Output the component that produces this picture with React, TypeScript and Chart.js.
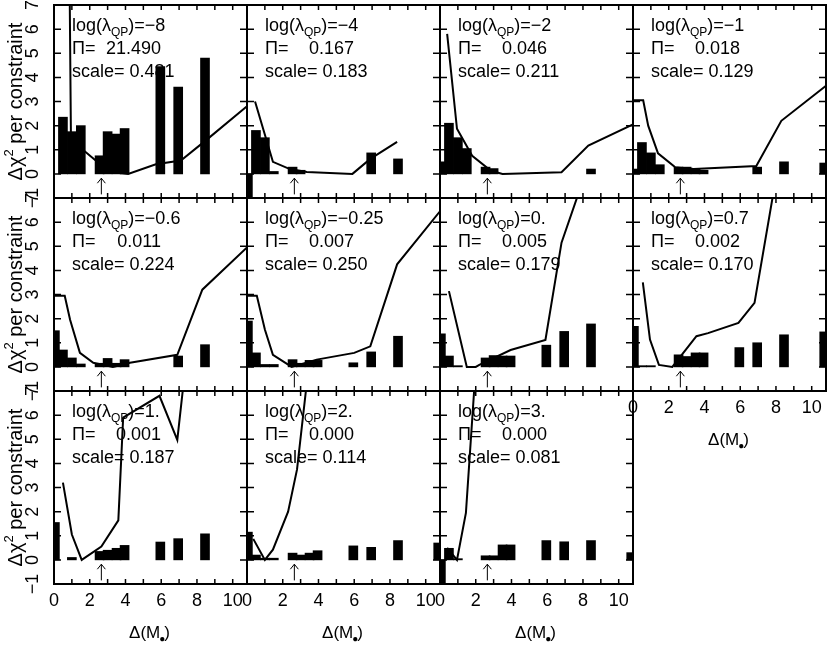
import { useEffect, useRef } from "react";
import { Chart, registerables } from "chart.js";

Chart.register(...registerables);

// histogram bin centres (Delta M) shared by every panel
const binCentres = [0.05, 0.5, 1.0, 1.5, 2.55, 3.0, 3.5, 3.95, 5.95, 6.95, 8.45, 10.7];

const logLambda = ["-8", "-4", "-2", "-1", "-0.6", "-0.25", "0.", "0.7", "1.", "2.", "3."];
const piValues = ["21.490", "0.167", "0.046", "0.018", "0.011", "0.007", "0.005", "0.002", "0.001", "0.000", "0.000"];
const scaleValues = ["0.481", "0.183", "0.211", "0.129", "0.224", "0.250", "0.179", "0.170", "0.187", "0.114", "0.081"];

// bar heights per panel, one per bin (null = no bar)
const bars1 = [null, 2.35, 1.75, 2.0, 0.75, 1.75, 1.65, 1.88, 4.45, 3.6, 4.8, null];
const bars2 = [-1.3, 1.8, 1.5, 0.1, 0.28, 0.15, null, null, null, 0.87, 0.62, null];
const bars3 = [0.5, 2.1, 1.5, 1.05, 0.28, 0.22, null, null, null, null, 0.2, null];
const bars4 = [0.2, 1.3, 0.87, 0.38, 0.28, 0.28, 0.2, 0.15, null, 0.28, 0.5, 0.45];
const bars5 = [1.5, 0.7, 0.37, 0.12, 0.15, 0.35, 0.15, 0.3, null, 0.45, 0.92, null];
const bars6 = [1.9, 0.58, 0.1, 0.1, 0.3, 0.15, 0.27, 0.27, 0.17, 0.62, 1.27, null];
const bars7 = [1.37, 0.45, 0.05, null, 0.37, 0.47, 0.45, 0.45, 0.9, 1.47, 1.78, null];
const bars8 = [1.68, 0.05, 0.05, null, 0.5, 0.43, 0.58, 0.58, 0.8, 1.0, 1.33, 1.45];
const bars9 = [1.55, null, 0.1, null, 0.35, 0.4, 0.48, 0.6, 0.74, 0.88, 1.08, null];
const bars10 = [1.15, 0.2, 0.07, 0.07, 0.28, 0.2, 0.28, 0.38, 0.58, 0.52, 0.8, 0.7];
const bars11 = [-1.3, 0.48, 0.05, null, 0.17, 0.17, 0.62, 0.62, 0.8, 0.75, 0.8, 0.3];

// curves
const lineX1 = [0.5, 0.95, 1.7, 2.5, 3.2, 4.15, 5.7, 7.1, 8.6, 10.8];
const lineY1 = [40, 1.3, 0.95, 0.45, 0.08, 0, 0.4, 0.55, 1.45, 2.8];
const lineX2 = [0.45, 1.45, 2.4, 3.35, 5.9, 6.9, 8.4];
const lineY2 = [3.0, 0.5, 0.2, 0.08, 0, 0.62, 1.33];
const lineX3 = [0.4, 0.95, 1.8, 2.85, 3.5, 6.8, 8.3, 10.8];
const lineY3 = [5.8, 1.87, 0.75, 0.13, 0, 0.07, 1.17, 2.05];
const lineX4 = [0, 0.57, 0.85, 1.4, 2.35, 3.4, 6.9, 8.3, 10.8];
const lineY4 = [3.05, 3.05, 2.0, 0.85, 0.28, 0.2, 0.33, 2.2, 3.65];
const lineX5 = [0, 0.6, 0.9, 1.45, 2.2, 3.3, 4.25, 6.9, 8.3, 10.8];
const lineY5 = [2.95, 2.95, 1.95, 0.58, 0.17, 0, 0.17, 0.5, 3.2, 4.95];
const lineX6 = [0, 0.55, 1.0, 1.45, 2.5, 3.9, 6.0, 6.9, 8.4, 10.8];
const lineY6 = [2.95, 2.95, 1.55, 0.5, 0, 0.3, 0.58, 0.85, 4.25, 6.45];
const lineX7 = [0.5, 1.5, 2.0, 2.2, 3.95, 5.9, 6.8, 8.5];
const lineY7 = [3.14, 0, 0, 0.08, 0.7, 1.12, 5.15, 8.8];
const lineX8 = [0.55, 0.95, 1.45, 2.2, 3.55, 4.2, 5.9, 6.8, 8.5];
const lineY8 = [3.5, 1.13, 0.08, 0, 1.27, 1.4, 1.82, 2.65, 10];
const lineX9 = [0.5, 1.0, 1.55, 2.65, 3.6, 3.87, 5.9, 6.9, 7.5];
const lineY9 = [3.2, 1.05, 0, 0.55, 1.64, 5.9, 6.8, 4.97, 9];
const lineX10 = [0.35, 1.0, 1.45, 2.3, 2.8, 3.6];
const lineY10 = [0.87, 0, 0.42, 2.0, 3.75, 9];
const lineX11 = [0.4, 0.95, 1.45, 2.0];
const lineY11 = [0.5, 0, 1.95, 8];

const barSets = [bars1, bars2, bars3, bars4, bars5, bars6, bars7, bars8, bars9, bars10, bars11];
const lineXs = [lineX1, lineX2, lineX3, lineX4, lineX5, lineX6, lineX7, lineX8, lineX9, lineX10, lineX11];
const lineYs = [lineY1, lineY2, lineY3, lineY4, lineY5, lineY6, lineY7, lineY8, lineY9, lineY10, lineY11];

const xTicks = [0, 2, 4, 6, 8, 10];
const yTicks = [-1, 0, 1, 2, 3, 4, 5, 6, 7];
const arrowX = 2.65;

const colLeft = [54, 247, 440, 633];
const rowTop = [5, 198, 391];
const SIZE = 193;
const PAD = { left: 54, right: 12, top: 5, bottom: 62 };
const FONT = "'Liberation Sans', Arial, sans-serif";

type PanelProps = { index: number };

function Panel({ index }: PanelProps) {
  const canvasRef = useRef<HTMLCanvasElement>(null);
  const col = index % 4;
  const row = Math.floor(index / 4);
  const showY = col === 0;
  const showX = row === 2 || (row === 1 && col === 3);

  useEffect(() => {
    if (!canvasRef.current) return;

    const decor = {
      id: "decor",
      afterDatasetsDraw(chart: Chart) {
        const { ctx, chartArea: a } = chart;
        const xs = chart.scales.x;
        const ys = chart.scales.y;
        ctx.save();
        ctx.strokeStyle = "#000";
        ctx.fillStyle = "#000";

        // frame
        ctx.lineWidth = 2;
        ctx.strokeRect(a.left, a.top, a.right - a.left, a.bottom - a.top);

        // inward ticks
        ctx.lineWidth = 1.5;
        ctx.beginPath();
        for (let v = 1; v <= 10; v++) {
          const px = xs.getPixelForValue(v);
          ctx.moveTo(px, a.bottom);
          ctx.lineTo(px, a.bottom - 5);
          ctx.moveTo(px, a.top);
          ctx.lineTo(px, a.top + 5);
        }
        for (let v = 0; v <= 6; v++) {
          const py = ys.getPixelForValue(v);
          ctx.moveTo(a.left, py);
          ctx.lineTo(a.left + 7, py);
          ctx.moveTo(a.right, py);
          ctx.lineTo(a.right - 7, py);
        }
        ctx.stroke();

        // arrow marking the true value
        const ax = xs.getPixelForValue(arrowX);
        const aTop = ys.getPixelForValue(-0.18);
        const aBot = ys.getPixelForValue(-0.85);
        ctx.lineWidth = 1;
        ctx.beginPath();
        ctx.moveTo(ax, aBot);
        ctx.lineTo(ax, aTop);
        ctx.moveTo(ax - 4, aTop + 5);
        ctx.lineTo(ax, aTop);
        ctx.lineTo(ax + 4, aTop + 5);
        ctx.stroke();

        // annotation text
        ctx.textAlign = "left";
        ctx.textBaseline = "alphabetic";
        let tx = a.left + 18;
        const b1 = a.top + 26;
        ctx.font = `18px ${FONT}`;
        ctx.fillText("log(λ", tx, b1);
        tx += ctx.measureText("log(λ").width;
        ctx.font = `12px ${FONT}`;
        ctx.fillText("QP", tx, b1 + 5);
        tx += ctx.measureText("QP").width;
        ctx.font = `18px ${FONT}`;
        ctx.fillText(")=" + logLambda[index].replace("-", "\u2212"), tx, b1);
        ctx.fillText("Π=", a.left + 18, a.top + 49);
        ctx.textAlign = "right";
        ctx.fillText(piValues[index], a.left + 107, a.top + 49);
        ctx.textAlign = "left";
        ctx.fillText("scale= " + scaleValues[index], a.left + 18, a.top + 72);

        // y tick labels + title (rotated)
        if (showY) {
          ctx.font = `18px ${FONT}`;
          ctx.textAlign = "center";
          ctx.textBaseline = "middle";
          for (const v of yTicks) {
            ctx.save();
            ctx.translate(a.left - 21, ys.getPixelForValue(v));
            ctx.rotate(-Math.PI / 2);
            ctx.fillText(String(v).replace("-", "\u2212"), 0, 0);
            ctx.restore();
          }
          ctx.save();
          ctx.translate(a.left - 39, (a.top + a.bottom) / 2);
          ctx.rotate(-Math.PI / 2);
          ctx.textAlign = "left";
          ctx.textBaseline = "alphabetic";
          ctx.font = `20px ${FONT}`;
          const w1 = ctx.measureText("Δχ").width;
          const w3 = ctx.measureText(" per constraint").width;
          ctx.font = `13px ${FONT}`;
          const w2 = ctx.measureText("2").width;
          let sx = -(w1 + w2 + w3) / 2;
          ctx.font = `20px ${FONT}`;
          ctx.fillText("Δχ", sx, 7);
          sx += w1;
          ctx.font = `13px ${FONT}`;
          ctx.fillText("2", sx, -2);
          sx += w2;
          ctx.font = `20px ${FONT}`;
          ctx.fillText(" per constraint", sx, 7);
          ctx.restore();
        }

        // x tick labels + title
        if (showX) {
          ctx.font = `18px ${FONT}`;
          ctx.textAlign = "center";
          ctx.textBaseline = "middle";
          for (const v of xTicks) {
            ctx.fillText(String(v), xs.getPixelForValue(v), a.bottom + 17);
          }
          ctx.textAlign = "left";
          ctx.textBaseline = "alphabetic";
          ctx.font = `17px ${FONT}`;
          const p1 = ctx.measureText("Δ(M").width;
          const p3 = ctx.measureText(")").width;
          ctx.font = `10px ${FONT}`;
          const p2 = ctx.measureText("●").width;
          let sx = (a.left + a.right) / 2 - (p1 + p2 + p3) / 2;
          const by = a.bottom + 54;
          ctx.font = `17px ${FONT}`;
          ctx.fillText("Δ(M", sx, by);
          sx += p1;
          ctx.font = `10px ${FONT}`;
          ctx.fillText("●", sx - 1, by + 4);
          sx += p2;
          ctx.font = `17px ${FONT}`;
          ctx.fillText(")", sx - 2, by);
        }
        ctx.restore();
      },
    };

    const barData = binCentres
      .map((x, i) => ({ x, y: barSets[index][i] }))
      .filter((p) => p.y !== null) as { x: number; y: number }[];
    const lineData = lineXs[index].map((x, i) => ({ x, y: lineYs[index][i] }));

    const chart = new Chart(canvasRef.current, {
      type: "bar",
      data: {
        datasets: [
          {
            type: "bar",
            data: barData,
            backgroundColor: "#000",
            borderWidth: 0,
            barThickness: 9,
            clip: 0,
          },
          {
            type: "line",
            data: lineData,
            borderColor: "#000",
            borderWidth: 2,
            pointRadius: 0,
            tension: 0,
            fill: false,
            clip: 0,
          },
        ],
      },
      options: {
        animation: false,
        responsive: false,
        maintainAspectRatio: false,
        devicePixelRatio: 1,
        layout: { padding: PAD },
        scales: {
          x: { type: "linear", min: 0, max: 10.8, offset: false, display: false },
          y: { type: "linear", min: -1, max: 7, display: false },
        },
        plugins: {
          legend: { display: false },
          tooltip: { enabled: false },
        },
      },
      plugins: [decor],
    });

    return () => chart.destroy();
  }, [index]);

  const w = PAD.left + SIZE + PAD.right;
  const h = PAD.top + SIZE + PAD.bottom;
  return (
    <canvas
      ref={canvasRef}
      width={w}
      height={h}
      style={{
        position: "absolute",
        left: colLeft[col] - PAD.left,
        top: rowTop[row] - PAD.top,
        width: w,
        height: h,
      }}
    />
  );
}

export default function App() {
  return (
    <div
      style={{
        position: "absolute",
        left: 0,
        top: 0,
        width: 830,
        height: 646,
        background: "#fff",
        overflow: "hidden",
      }}
    >
      {logLambda.map((_, i) => (
        <Panel key={i} index={i} />
      ))}
    </div>
  );
}
